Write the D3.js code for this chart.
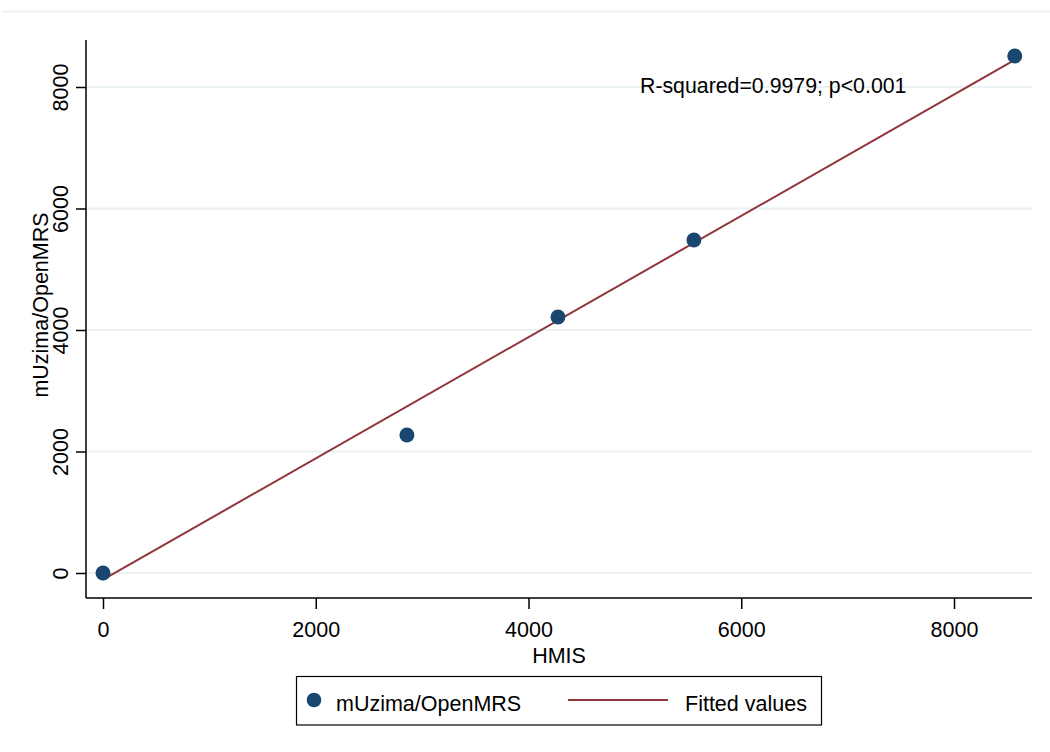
<!DOCTYPE html>
<html>
<head>
<meta charset="utf-8">
<script src="https://cdn.jsdelivr.net/npm/d3@7"></script>
<style>
  html, body { margin: 0; padding: 0; background: #fff; }
  svg { display: block; font-family: "Liberation Sans", Arial, Helvetica, sans-serif; }
</style>
</head>
<body>
<svg id="chart" width="1050" height="752"></svg>
<script>
// ---- data ----
const hmis = [0, 2857, 4277, 5555, 8571];
const openmrs = [0, 2272, 4214, 5481, 8510];
const fittedX = [0, 8571];
const fittedY = [-110, 8445];
const xTicks = [0, 2000, 4000, 6000, 8000];
const yTicks = [0, 2000, 4000, 6000, 8000];
const annotation = "R-squared=0.9979; p<0.001";
const seriesNames = ["mUzima/OpenMRS", "Fitted values"];
const xTitle = "HMIS";
const yTitle = "mUzima/OpenMRS";

const navy = "#1a476f", maroon = "#90353b", grid = "#eaf2f3";
const svg = d3.select("#chart");

const pL = 86, pR = 1032, pT = 40, pB = 598;
const x = d3.scaleLinear().domain([0, 8000]).range([103, 954]);
const y = d3.scaleLinear().domain([0, 8000]).range([573, 87]);

// faint top border
svg.append("line").attr("x1", 2).attr("x2", 1050).attr("y1", 11.5).attr("y2", 11.5)
  .attr("stroke", "#f2f2f2").attr("stroke-width", 2);

// gridlines
svg.append("g").selectAll("line").data(yTicks).join("line")
  .attr("x1", pL).attr("x2", pR)
  .attr("y1", d => y(d)).attr("y2", d => y(d))
  .attr("stroke", grid).attr("stroke-width", 2);

// axes
const xAxis = d3.axisBottom(x).tickValues(xTicks).tickSize(11).tickSizeOuter(0).tickFormat(d3.format("d"));
const gx = svg.append("g").attr("transform", `translate(0,${pB})`).call(xAxis);
gx.select(".domain").remove();
gx.append("line").attr("x1", pL).attr("x2", pR).attr("y1", 0).attr("y2", 0).attr("stroke", "#000").attr("stroke-width", 1.5);
gx.selectAll(".tick line").attr("stroke", "#000").attr("stroke-width", 1.5);
gx.selectAll(".tick text").attr("font-size", 21.5).attr("fill", "#000")
  .attr("font-family", "Liberation Sans, Arial, sans-serif")
  .attr("y", 39).attr("dy", null);

const yAxis = d3.axisLeft(y).tickValues(yTicks).tickSize(10).tickSizeOuter(0).tickFormat(d3.format("d"));
const gy = svg.append("g").attr("transform", `translate(${pL},0)`).call(yAxis);
gy.select(".domain").remove();
gy.append("line").attr("x1", 0).attr("x2", 0).attr("y1", pT).attr("y2", pB).attr("stroke", "#000").attr("stroke-width", 1.5);
gy.selectAll(".tick line").attr("stroke", "#000").attr("stroke-width", 1.5);
gy.selectAll(".tick text")
  .attr("font-size", 21.5).attr("fill", "#000").attr("font-family", "Liberation Sans, Arial, sans-serif")
  .attr("x", null).attr("dy", null)
  .attr("text-anchor", "middle")
  .attr("transform", "translate(-18,0) rotate(-90)");

// fitted line
const line = d3.line().x(d => x(d[0])).y(d => y(d[1]));
svg.append("path").datum(d3.zip(fittedX, fittedY))
  .attr("d", line).attr("fill", "none").attr("stroke", maroon).attr("stroke-width", 2);

// points
svg.append("g").selectAll("circle").data(d3.zip(hmis, openmrs)).join("circle")
  .attr("cx", d => x(d[0])).attr("cy", d => y(d[1])).attr("r", 7.5).attr("fill", navy);

// annotation
svg.append("text").attr("x", 640).attr("y", 93).attr("font-size", 21.3).attr("fill", "#000").text(annotation);

// axis titles
svg.append("text").attr("x", 559).attr("y", 663).attr("text-anchor", "middle").attr("font-size", 21.5).text(xTitle);
svg.append("text").attr("transform", "translate(48,305) rotate(-90)").attr("text-anchor", "middle").attr("font-size", 21.5).text(yTitle);

// legend
const lg = svg.append("g");
lg.append("rect").attr("x", 296.5).attr("y", 676.5).attr("width", 525).attr("height", 48.5)
  .attr("fill", "#fff").attr("stroke", "#000").attr("stroke-width", 1.2);
lg.append("circle").attr("cx", 314).attr("cy", 700).attr("r", 7.3).attr("fill", navy);
lg.append("text").attr("x", 336).attr("y", 711).attr("font-size", 21.5).text(seriesNames[0]);
lg.append("line").attr("x1", 568).attr("x2", 668).attr("y1", 700).attr("y2", 700).attr("stroke", maroon).attr("stroke-width", 2);
lg.append("text").attr("x", 685).attr("y", 711).attr("font-size", 21.5).text(seriesNames[1]);
</script>
</body>
</html>
